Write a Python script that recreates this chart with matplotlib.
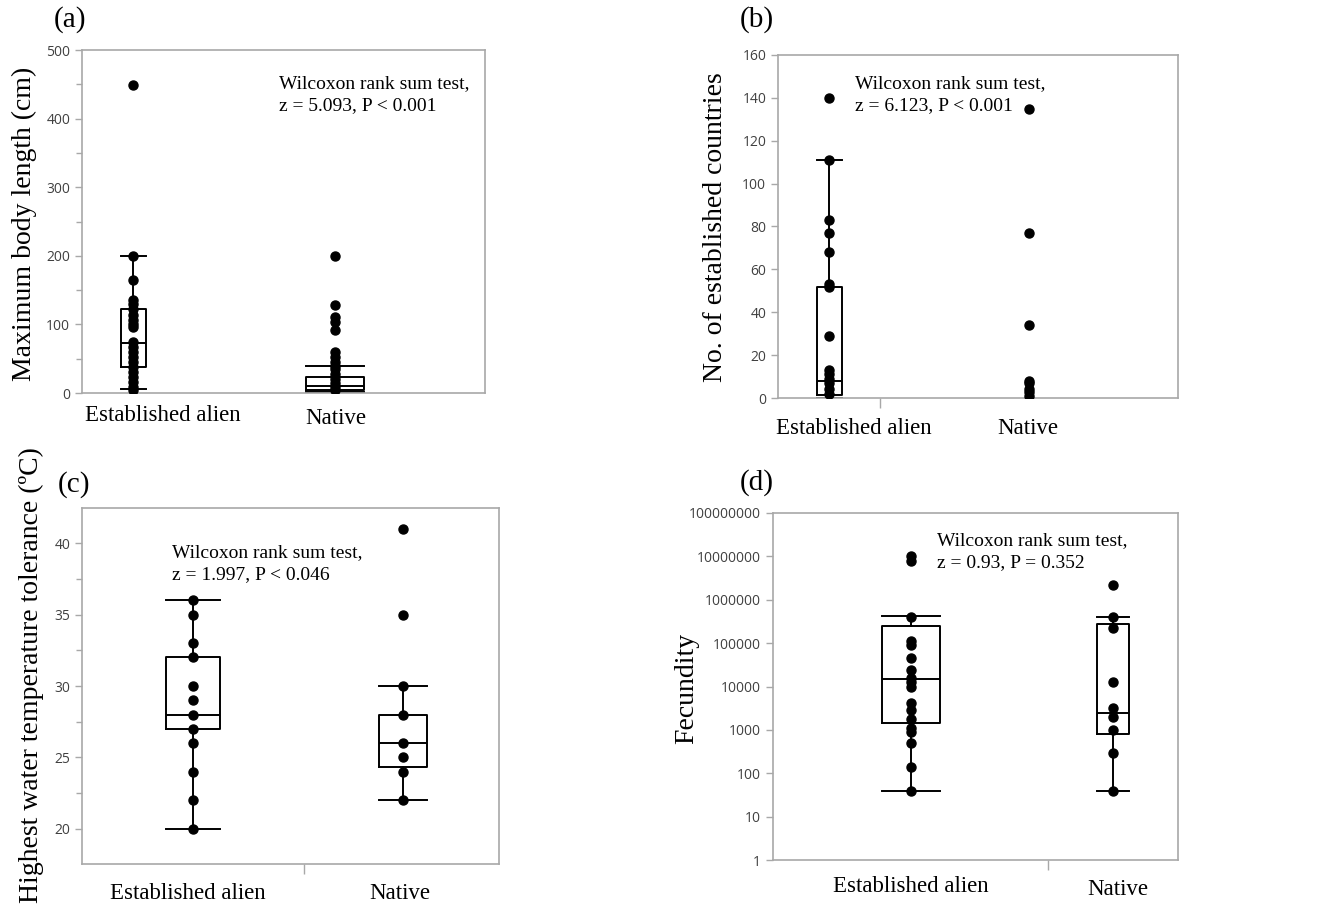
import numpy as np
import matplotlib
matplotlib.use("Agg")
import matplotlib.pyplot as plt
from matplotlib.ticker import MultipleLocator, FixedLocator, NullLocator, FuncFormatter

W, H = 1324, 905
groups = ["Established alien", "Native"]

# (a) maximum body length (cm)
a_alien = [449, 200, 164, 135, 130, 123, 113, 106, 101, 96, 74, 67, 60, 52, 45,
           38, 31, 23, 16, 9, 5]
a_native = [200, 129, 111, 104, 92, 60, 52, 45, 40, 35, 28, 21, 14, 9, 4]
a_box_alien = [6, 38, 73, 123, 200]      # whislo, q1, med, q3, whishi
a_box_native = [1, 4, 10, 23, 40]

# (b) no. of established countries
b_alien = [140, 111, 83, 77, 68, 53, 52, 29, 13, 11, 9, 7, 4, 2]
b_native = [135, 77, 34, 8, 7, 4, 3, 1]
b_box_alien = [0, 1.2, 8, 52, 111]

# (c) highest water temperature tolerance
c_alien = [36, 35, 33, 32, 30, 29, 28, 27, 26, 24, 22, 20]
c_native = [41, 35, 30, 28, 26, 25, 24, 22]
c_box_alien = [20, 27, 28, 32, 36]
c_box_native = [22, 24.3, 26, 28, 30]

# (d) fecundity
d_alien = [1.0e7, 7.7e6, 4.1e5, 1.1e5, 9.2e4, 4.5e4, 2.4e4, 1.56e4, 1.3e4, 1.0e4,
           4.1e3, 2.9e3, 1.8e3, 1.1e3, 900, 490, 143, 39]
d_native = [2.2e6, 4.1e5, 2.2e5, 1.3e4, 3.2e3, 2.0e3, 1.0e3, 290, 39]
d_box_alien = [39, 1430, 14800, 250000, 430000]
d_box_native = [39, 795, 2400, 275000, 410000]

stats_text = ["Wilcoxon rank sum test,\nz = 5.093, P < 0.001",
              "Wilcoxon rank sum test,\nz = 6.123, P < 0.001",
              "Wilcoxon rank sum test,\nz = 1.997, P < 0.046",
              "Wilcoxon rank sum test,\nz = 0.93, P = 0.352"]
ylabels = ["Maximum body length (cm)", "No. of established countries",
           "Highest water temperature tolerance (\u00baC)", "Fecundity"]
letters = ["(a)", "(b)", "(c)", "(d)"]

SERIF = "Liberation Serif"
TICKC = "#404040"
SPINEC = "#a8a8a8"

fig = plt.figure(figsize=(W / 100, H / 100), dpi=100)


def px_axes(l, t, r, b):
    return fig.add_axes([l / W, 1 - b / H, (r - l) / W, (b - t) / H])


def ftext(x, y, s, **kw):
    fig.text(x / W, 1 - y / H, s, **kw)


def style(ax):
    for sp in ax.spines.values():
        sp.set_color(SPINEC)
        sp.set_linewidth(1.2)
    ax.tick_params(axis="y", which="both", color=SPINEC, labelcolor=TICKC,
                   labelsize=10, length=5, width=1)
    ax.tick_params(axis="y", which="minor", length=4)
    ax.tick_params(axis="x", which="both", color=SPINEC, length=7, width=1,
                   labelbottom=False)
    for lab in ax.get_yticklabels():
        lab.set_family("Open Sans")
    ax.set_xticks([])


def boxes(ax, box_list, positions, widths):
    stats = [dict(whislo=b[0], q1=b[1], med=b[2], q3=b[3], whishi=b[4], fliers=[])
             for b in box_list]
    lp = dict(color="black", linewidth=1.4)
    ax.bxp(stats, positions=positions, widths=widths, capwidths=widths,
           showfliers=False, boxprops=lp, whiskerprops=lp, capprops=lp,
           medianprops=lp, manage_ticks=False)


def points(ax, pos, vals):
    ax.plot(np.full(len(vals), pos), vals, "o", color="black", ms=6.5, zorder=3)


def note(x, y_last_baseline, s):
    # y is the baseline of the second line
    ftext(x, y_last_baseline, s, family=SERIF, fontsize=14, va="baseline",
          linespacing=1.38)


# ---- (a)
ax = px_axes(82, 50, 485, 393)
ax.set_xlim(-0.253, 1.743)
ax.set_ylim(0, 500)
ax.yaxis.set_major_locator(MultipleLocator(100))
ax.yaxis.set_minor_locator(MultipleLocator(50))
boxes(ax, [a_box_alien, a_box_native], [0, 1], [0.124, 0.29])
points(ax, 0, a_alien)
points(ax, 1, a_native)
style(ax)
note(279, 110, stats_text[0])
ftext(24, 224, ylabels[0], family=SERIF, fontsize=20, rotation=90,
      ha="center", va="center")
ftext(163, 415, groups[0], family=SERIF, fontsize=16.5, ha="center", va="center")
ftext(336, 418, groups[1], family=SERIF, fontsize=16.5, ha="center", va="center")
ftext(70, 20, letters[0], family=SERIF, fontsize=21, ha="center", va="center")

# ---- (b)
ax = px_axes(778, 55, 1178, 398)
ax.set_xlim(-0.255, 1.745)
ax.set_ylim(0, 160)
ax.yaxis.set_major_locator(MultipleLocator(20))
boxes(ax, [b_box_alien], [0], [0.125])
points(ax, 0, b_alien)
points(ax, 1, b_native)
style(ax)
ax.set_xticks([0.255], minor=True)
note(855, 110, stats_text[1])
ftext(715, 227, ylabels[1], family=SERIF, fontsize=20, rotation=90,
      ha="center", va="center")
ftext(854, 428, groups[0], family=SERIF, fontsize=16.5, ha="center", va="center")
ftext(1028, 428, groups[1], family=SERIF, fontsize=16.5, ha="center", va="center")
ftext(757, 20, letters[1], family=SERIF, fontsize=21, ha="center", va="center")

# ---- (c)
ax = px_axes(82, 508, 499, 864)
ax.set_xlim(-0.528, 1.456)
ax.set_ylim(17.55, 42.45)
ax.yaxis.set_major_locator(MultipleLocator(5))
ax.yaxis.set_minor_locator(MultipleLocator(2.5))
boxes(ax, [c_box_alien, c_box_native], [0, 1], [0.26, 0.23])
points(ax, 0, c_alien)
points(ax, 1, c_native)
style(ax)
ax.set_xticks([0.528], minor=True)
note(172, 579, stats_text[2])
ftext(31, 675, ylabels[2], family=SERIF, fontsize=20, rotation=90,
      ha="center", va="center")
ftext(188, 893, groups[0], family=SERIF, fontsize=16.5, ha="center", va="center")
ftext(400, 893, groups[1], family=SERIF, fontsize=16.5, ha="center", va="center")
ftext(74, 485, letters[2], family=SERIF, fontsize=21, ha="center", va="center")

# ---- (d)
ax = px_axes(773, 513, 1178, 860)
ax.set_xlim(-0.683, 1.321)
ax.set_yscale("log")
ax.set_ylim(1, 1e8)
ax.yaxis.set_major_locator(FixedLocator([10.0 ** k for k in range(9)]))
ax.yaxis.set_minor_locator(NullLocator())
ax.yaxis.set_major_formatter(FuncFormatter(lambda v, p: f"{int(round(v))}"))
boxes(ax, [d_box_alien, d_box_native], [0, 1], [0.29, 0.16])
points(ax, 0, d_alien)
points(ax, 1, d_native)
style(ax)
ax.set_xticks([0.678], minor=True)
note(937, 567, stats_text[3])
ftext(687, 688, ylabels[3], family=SERIF, fontsize=20, rotation=90,
      ha="center", va="center")
ftext(911, 886, groups[0], family=SERIF, fontsize=16.5, ha="center", va="center")
ftext(1118, 889, groups[1], family=SERIF, fontsize=16.5, ha="center", va="center")
ftext(757, 483, letters[3], family=SERIF, fontsize=21, ha="center", va="center")

fig.savefig("out.png", dpi=100, facecolor="white")
